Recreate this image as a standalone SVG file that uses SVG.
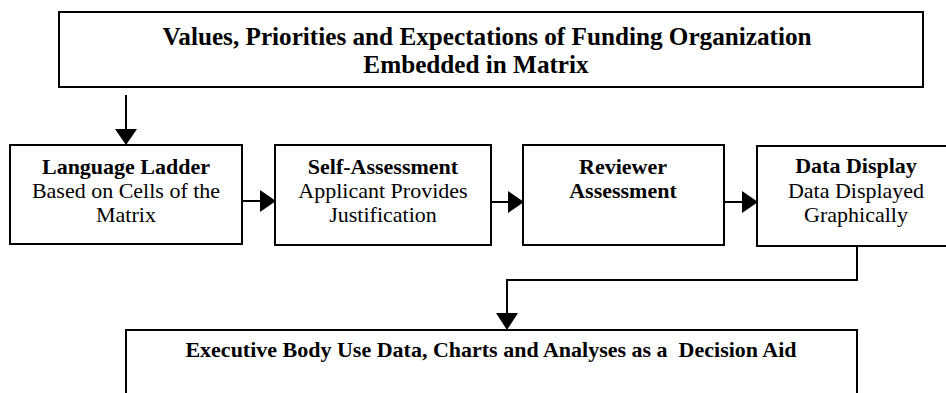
<svg xmlns="http://www.w3.org/2000/svg" width="946" height="393" viewBox="0 0 946 393">
  <style>
    .box { fill: #ffffff; stroke: #000000; stroke-width: 2; }
    .conn { fill: none; stroke: #000000; stroke-width: 2; }
    .head { fill: #000000; stroke: none; }
    text { font-family: "Liberation Serif", "Times New Roman", serif; fill: #000000; text-anchor: middle; }
    .title { font-size: 25.2px; font-weight: bold; }
    .b { font-size: 22px; font-weight: bold; }
    .r { font-size: 22px; }
  </style>
  <rect width="946" height="393" fill="#ffffff"/>

  <g id="connectors">
    <line class="conn" x1="126" y1="95" x2="126" y2="130"/>
    <polygon class="head" points="115,129 137,129 126,145"/>
    <line class="conn" x1="242" y1="201" x2="261" y2="201"/>
    <polygon class="head" points="260,190 260,212 276,201"/>
    <line class="conn" x1="491" y1="202" x2="509" y2="202"/>
    <polygon class="head" points="508,191 508,213 524,202"/>
    <line class="conn" x1="724" y1="202" x2="743" y2="202"/>
    <polygon class="head" points="742,191 742,213 758,202"/>
    <polyline class="conn" points="857,246 857,280 507,280 507,314"/>
    <polygon class="head" points="496,313 518,313 507,330"/>
  </g>

  <g id="funding-values">
    <rect class="box" x="59" y="12" width="864" height="75"/>
    <text class="title" x="487" y="45">Values, Priorities and Expectations of Funding Organization</text>
    <text class="title" x="476" y="73">Embedded in Matrix</text>
  </g>

  <g id="language-ladder">
    <rect class="box" x="10" y="145" width="232" height="99"/>
    <text class="b" x="126" y="174">Language Ladder</text>
    <text class="r" x="126" y="198">Based on Cells of the</text>
    <text class="r" x="126" y="222">Matrix</text>
  </g>

  <g id="self-assessment">
    <rect class="box" x="275" y="145" width="216" height="100"/>
    <text class="b" x="383" y="174">Self-Assessment</text>
    <text class="r" x="383" y="198">Applicant Provides</text>
    <text class="r" x="383" y="222">Justification</text>
  </g>

  <g id="reviewer-assessment">
    <rect class="box" x="523" y="145" width="201" height="100"/>
    <text class="b" x="623" y="174">Reviewer</text>
    <text class="b" x="623" y="198">Assessment</text>
  </g>

  <g id="data-display">
    <rect class="box" x="757" y="146" width="200" height="100"/>
    <text class="b" x="856" y="173">Data Display</text>
    <text class="r" x="856" y="198">Data Displayed</text>
    <text class="r" x="856" y="222">Graphically</text>
  </g>

  <g id="executive-body">
    <rect class="box" x="126" y="330" width="731" height="80"/>
    <text class="b" x="491" y="357" xml:space="preserve">Executive Body Use Data, Charts and Analyses as a  Decision Aid</text>
  </g>
</svg>
